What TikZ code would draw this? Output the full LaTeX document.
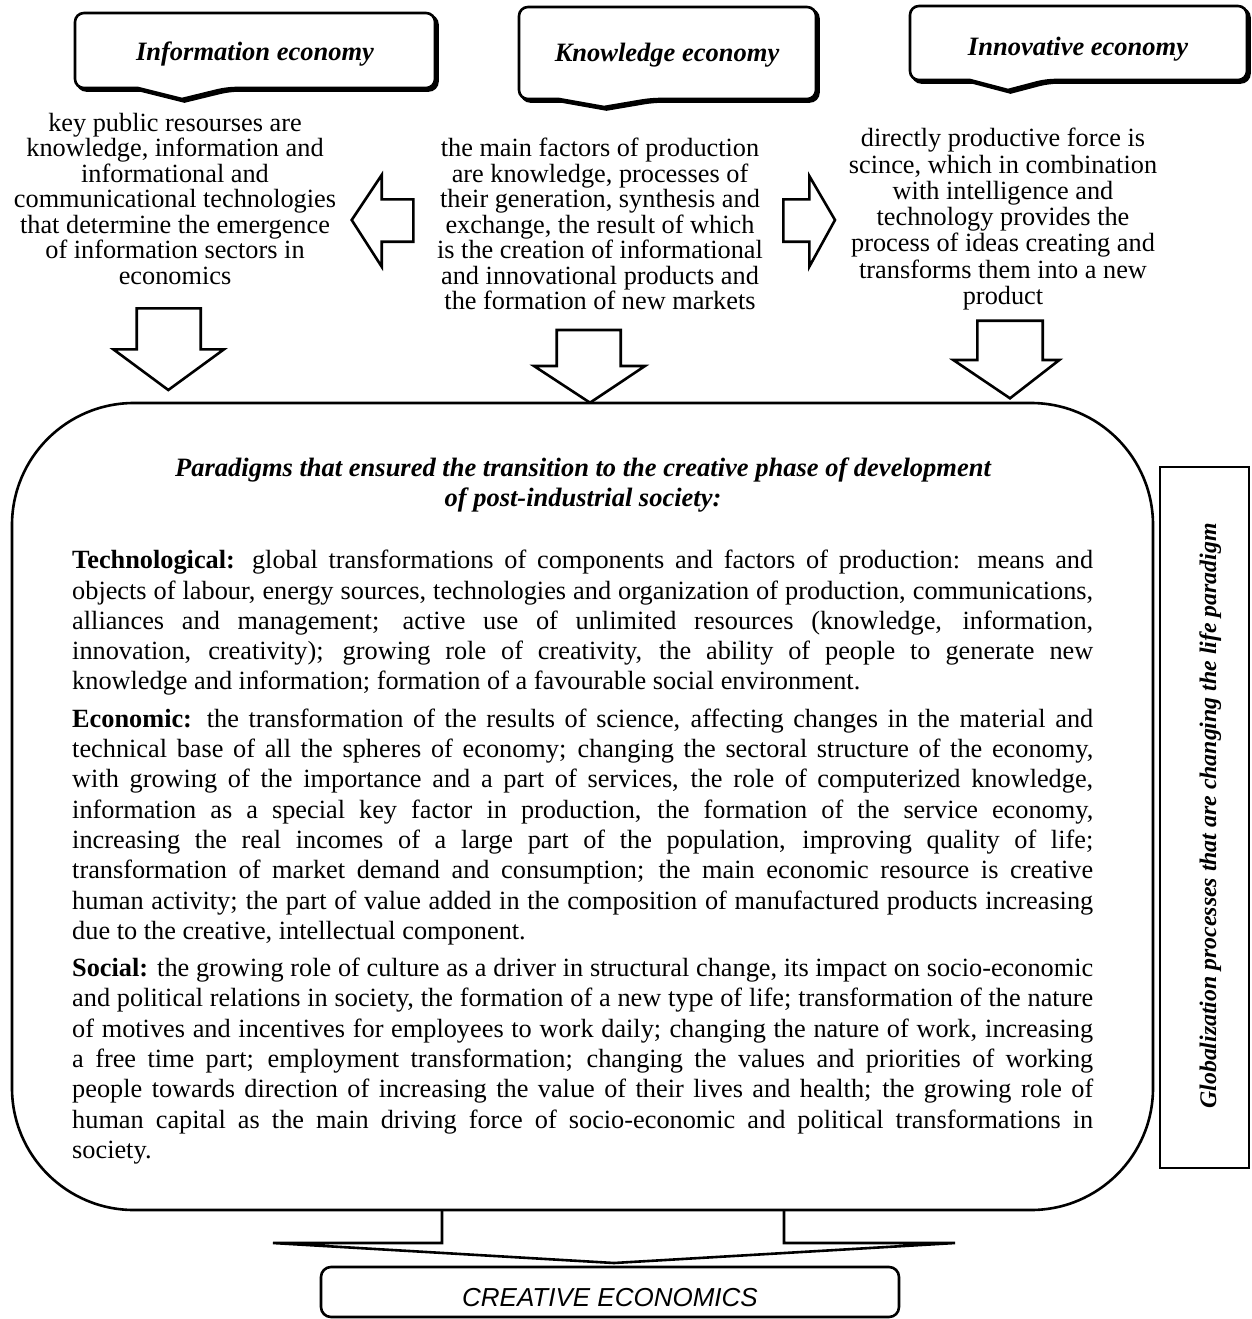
\documentclass[tikz,border=0pt]{standalone}
\usepackage{fontspec}
\setmainfont{Liberation Serif}
\newfontfamily\arialf{Liberation Sans}
\newcommand\jline[1]{\makebox[1021pt][s]{#1}}
\newcommand\lline[1]{\makebox[1021pt][l]{#1}}
\begin{document}
\begin{tikzpicture}[x=1pt,y=-1pt]
\tikzset{
  blk/.style={draw=black, line width=2.6pt, line join=miter, fill=white},
  callbox/.style={draw=black, line width=2.6pt, line join=miter, fill=white},
  callshadow/.style={draw=black, line width=2.6pt, line join=miter, fill=black, shift={(2.5,2.5)}},
  toptext/.style={align=center, inner sep=0pt},
  calltext/.style={font=\fontsize{26.5}{30}\selectfont\bfseries\itshape, inner sep=0pt},
}
\useasboundingbox (0,0) rectangle (1252,1319);

% callouts
\draw[callshadow] (138,88) [rounded corners=9pt] -- (75,88) -- (75,13) -- (435,13) -- (435,88) -- (227,88) [sharp corners] -- (182,99) -- cycle;
\draw[callbox] (138,88) [rounded corners=9pt] -- (75,88) -- (75,13) -- (435,13) -- (435,88) -- (227,88) [sharp corners] -- (182,99) -- cycle;
\node[calltext, anchor=base] (info) at (255,61) {Information economy};

\draw[callshadow] (559,99) [rounded corners=9pt] -- (519,99) -- (519,7) -- (816,7) -- (816,99) -- (651,99) [sharp corners] -- (604,107) -- cycle;
\draw[callbox] (559,99) [rounded corners=9pt] -- (519,99) -- (519,7) -- (816,7) -- (816,99) -- (651,99) [sharp corners] -- (604,107) -- cycle;
\node[calltext, anchor=base] (know) at (667,62) {Knowledge economy};

\draw[callshadow] (970,80) [rounded corners=9pt] -- (910,80) -- (910,6) -- (1247,6) -- (1247,80) -- (1046,80) [sharp corners] -- (1008,90) -- cycle;
\draw[callbox] (970,80) [rounded corners=9pt] -- (910,80) -- (910,6) -- (1247,6) -- (1247,80) -- (1046,80) [sharp corners] -- (1008,90) -- cycle;
\node[calltext, anchor=base] (innov) at (1078,56) {Innovative economy};

% descriptive texts
\node[toptext, anchor=north, font=\fontsize{26.3}{25.5}\selectfont] (ltext) at (175,113)
 {key public resourses are\\ knowledge, information and\\ informational and\\ communicational technologies\\ that determine the emergence\\ of information sectors in\\ economics};
\node[toptext, anchor=north, font=\fontsize{26.3}{25.5}\selectfont] (mtext) at (600,138)
 {the main factors of production\\ are knowledge, processes of\\ their generation, synthesis and\\ exchange, the result of which\\ is the creation of informational\\ and innovational products and\\ the formation of new markets};
\node[toptext, anchor=north, font=\fontsize{26.3}{26.3}\selectfont] (rtext) at (1003,128)
 {directly productive force is\\ scince, which in combination\\ with intelligence and\\ technology provides the\\ process of ideas creating and\\ transforms them into a new\\ product};

% side arrows
\draw[blk] (413.3,199.3) -- (381.7,199.3) -- (381.7,175) -- (351.7,220) -- (381.7,266.7) -- (381.7,241.7) -- (413.3,241.7) -- cycle;
\draw[blk] (783.3,199.3) -- (809.3,199.3) -- (809.3,176) -- (835,220) -- (809.3,266.7) -- (809.3,241.7) -- (783.3,241.7) -- cycle;

% down arrows
\draw[blk] (136.7,308.3) -- (200.7,308.3) -- (200.7,349.3) -- (224,349.3) -- (168.3,390) -- (113.3,349.3) -- (136.7,349.3) -- cycle;
\draw[blk] (556.7,330) -- (620.7,330) -- (620.7,366) -- (645,366) -- (590,402.7) -- (534,366) -- (556.7,366) -- cycle;
\draw[blk] (977.3,320.7) -- (1042.7,320.7) -- (1042.7,360) -- (1059.3,360) -- (1010,398.3) -- (953.3,360) -- (977.3,360) -- cycle;

% big box
\draw[blk, rounded corners=122pt] (12,403) rectangle (1153,1210);
\node[anchor=north, align=center, inner sep=0pt, font=\fontsize{26.5}{30}\selectfont\bfseries\itshape] (title) at (583,458)
 {Paradigms that ensured the transition to the creative phase of development\\ of post-industrial society:};

\node[anchor=north west, align=left, inner sep=0pt, font=\fontsize{26.3}{30.3}\selectfont] (body) at (72,550)
{\jline{\textbf{Technological:} global transformations of components and factors of production: means and}\\
\jline{objects of labour, energy sources, technologies and organization of production, communications,}\\
\jline{alliances and management; active use of unlimited resources (knowledge, information,}\\
\jline{innovation, creativity); growing role of creativity, the ability of people to generate new}\\
\lline{knowledge and information; formation of a favourable social environment.}\\[7pt]
\jline{\textbf{Economic:} the transformation of the results of science, affecting changes in the material and}\\
\jline{technical base of all the spheres of economy; changing the sectoral structure of the economy,}\\
\jline{with growing of the importance and a part of services, the role of computerized knowledge,}\\
\jline{information as a special key factor in production, the formation of the service economy,}\\
\jline{increasing the real incomes of a large part of the population, improving quality of life;}\\
\jline{transformation of market demand and consumption; the main economic resource is creative}\\
\jline{human activity; the part of value added in the composition of manufactured products increasing}\\
\lline{due to the creative, intellectual component.}\\[7pt]
\jline{\textbf{Social:} the growing role of culture as a driver in structural change, its impact on socio-economic}\\
\jline{and political relations in society, the formation of a new type of life; transformation of the nature}\\
\jline{of motives and incentives for employees to work daily; changing the nature of work, increasing}\\
\jline{a free time part; employment transformation; changing the values and priorities of working}\\
\jline{people towards direction of increasing the value of their lives and health; the growing role of}\\
\jline{human capital as the main driving force of socio-economic and political transformations in}\\
\lline{society.}};

% globalization box
\draw[blk] (1160,467) rectangle (1249,1168);
\node[rotate=90, anchor=base, inner sep=0pt, font=\fontsize{23.8}{28}\selectfont\bfseries\itshape] (glob) at (1216,816)
 {Globalization processes that are changing the life paradigm};

% bottom arrow
\draw[blk, fill=none] (442,1210) -- (442,1243) -- (273,1243) -- (614,1263) -- (955,1243) -- (784,1243) -- (784,1210);

% creative economics
\draw[blk, rounded corners=10pt] (321,1267) rectangle (899,1317);
\node[anchor=base, inner sep=0pt, font=\fontsize{26}{30}\selectfont\arialf\itshape] (creative) at (610,1306) {CREATIVE ECONOMICS};
\end{tikzpicture}
\end{document}
